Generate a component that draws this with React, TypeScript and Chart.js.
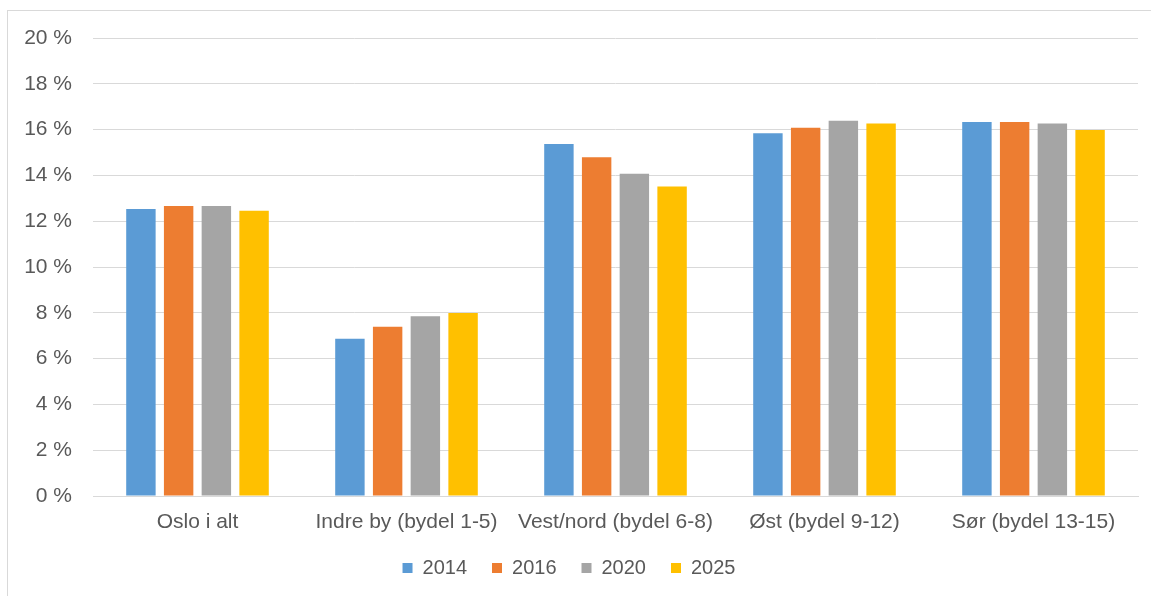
import React, { useEffect, useRef } from "react";
import { Chart, registerables } from "chart.js";

Chart.register(...registerables);

const categories = [
  "Oslo i alt",
  "Indre by (bydel 1-5)",
  "Vest/nord (bydel 6-8)",
  "Øst (bydel 9-12)",
  "Sør (bydel 13-15)",
];
const seriesNames = ["2014", "2016", "2020", "2025"];
const values2014 = [12.53, 6.87, 15.37, 15.84, 16.33];
const values2016 = [12.66, 7.39, 14.79, 16.08, 16.33];
const values2020 = [12.66, 7.85, 14.07, 16.39, 16.27];
const values2025 = [12.46, 7.99, 13.51, 16.27, 15.98];
const colors = ["#5B9BD5", "#ED7D31", "#A5A5A5", "#FFC000"];
const yMax = 20;
const yStep = 2;

const FONT = '"Liberation Sans", Arial, sans-serif';
const TEXT = "#595959";
const GRID = "#d9d9d9";

export default function App() {
  const ref = useRef<HTMLCanvasElement | null>(null);

  useEffect(() => {
    if (!ref.current) return;
    const all = [values2014, values2016, values2020, values2025];
    const chart = new Chart(ref.current, {
      type: "bar",
      data: {
        labels: categories,
        datasets: seriesNames.map((name, i) => ({
          label: name,
          data: all[i],
          backgroundColor: colors[i],
          borderWidth: 0,
          categoryPercentage: 0.722,
          barPercentage: 0.78,
        })),
      },
      options: {
        responsive: false,
        animation: false,
        layout: { padding: { left: 0, right: 13, top: 38, bottom: 8 } },
        plugins: {
          tooltip: { enabled: false },
          legend: {
            position: "bottom",
            labels: {
              boxWidth: 10,
              boxHeight: 10,
              padding: 25,
              color: TEXT,
              font: { family: FONT, size: 20 },
            },
          },
        },
        scales: {
          x: {
            grid: { display: false, drawTicks: false },
            border: { display: true, color: GRID, width: 1 },
            ticks: {
              color: TEXT,
              font: { family: FONT, size: 21 },
              padding: 14,
              maxRotation: 0,
              autoSkip: false,
            },
            afterFit: (scale: any) => {
              scale.height = 37;
            },
          },
          y: {
            min: 0,
            max: yMax,
            grid: { color: GRID, lineWidth: 1, drawTicks: false },
            border: { display: false },
            ticks: {
              stepSize: yStep,
              color: TEXT,
              font: { family: FONT, size: 21 },
              padding: 21,
              callback: (v: any) => `${v} %`,
            },
            afterFit: (scale: any) => {
              scale.width = 93;
            },
          },
        },
      },
    });
    return () => chart.destroy();
  }, []);

  return (
    <div
      style={{
        position: "absolute",
        left: 0,
        top: 0,
        width: 1151,
        height: 596,
        overflow: "hidden",
        background: "#fff",
      }}
    >
      <div
        style={{
          position: "absolute",
          left: 7,
          top: 10,
          width: 1144,
          height: 586,
          borderTop: "1px solid #d9d9d9",
          borderLeft: "1px solid #d9d9d9",
        }}
      />
      <canvas
        ref={ref}
        width={1151}
        height={596}
        style={{ position: "absolute", left: 0, top: 0 }}
      />
    </div>
  );
}
